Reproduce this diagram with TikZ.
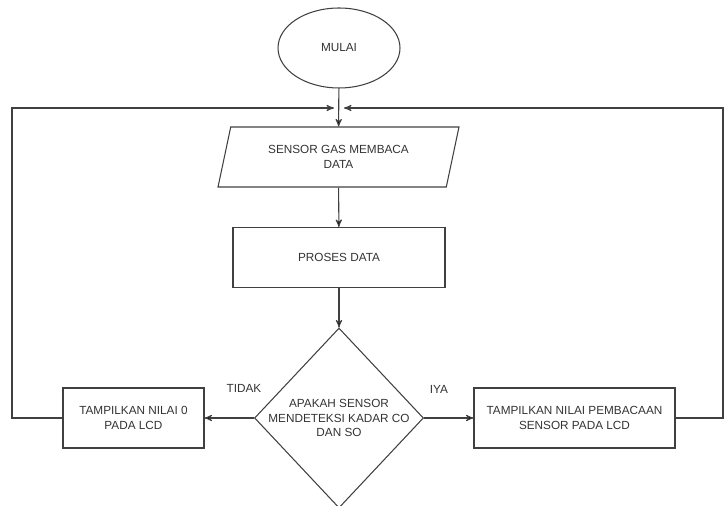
\documentclass[tikz,border=0pt]{standalone}
\usepackage{fontspec}
\setmainfont{Liberation Sans}
\usetikzlibrary{arrows,shapes,positioning}

\begin{document}
\begin{tikzpicture}[>=stealth', x=0.02cm, y=-0.02cm, semithick,
                    font=\fontsize{6.7}{8.5}\selectfont]
  \tikzstyle{every node}=[text=black!80]
  \tikzstyle{blok}=[draw=black!75, rectangle, align=center, minimum height=1.2cm]
  \tikzstyle{garis}=[draw=black!75]

  \useasboundingbox (0,0) rectangle (724,506);

	\node[draw=black!75, ellipse, minimum width=2.44cm, minimum height=1.6cm]	(mulai) at (339,48)	{MULAI};
	\node[draw=black!75, trapezium, trapezium left angle=70, trapezium right angle=110,
	      trapezium stretches body, minimum width=4.82cm, minimum height=1.2cm, align=center]
	                                        (baca)   at (338.5,157)  {SENSOR GAS MEMBACA\\DATA};
	\node[blok, minimum width=4.24cm]	(proses) at (339,257.5)	{PROSES DATA};
	\node[draw=black!75, diamond, inner sep=0pt, minimum width=3.38cm, minimum height=3.6cm,
	      label={[align=center]center:APAKAH SENSOR\\MENDETEKSI KADAR CO\\DAN SO}]
	                                        (cek)    at (339,418)    {};
	\node[blok, minimum width=2.82cm]	(nol)    at (133.5,418)	{TAMPILKAN NILAI 0\\PADA LCD};
	\node[blok, minimum width=4.02cm]	(tampil) at (574.5,418)	{TAMPILKAN NILAI PEMBACAAN\\SENSOR PADA LCD};

	\node	(tidak)	at (244,388)	{TIDAK};
	\node	(iya)	at (439,389)	{IYA};

	\coordinate (masukkiri)  at (334,108);
	\coordinate (masukkanan) at (344,108);

	\path[->, garis]
    (mulai)  edge []	node {} (baca)
    (baca)   edge []	node {} (proses)
    (proses) edge []	node {} (cek)
    (cek)    edge []	node {} (nol)
    (cek)    edge []	node {} (tampil);

	\draw[->, garis] (nol.west) -| (12,108) -- (masukkiri);
	\draw[->, garis] (tampil.east) -| (723,108) -- (masukkanan);

\end{tikzpicture}
\end{document}
